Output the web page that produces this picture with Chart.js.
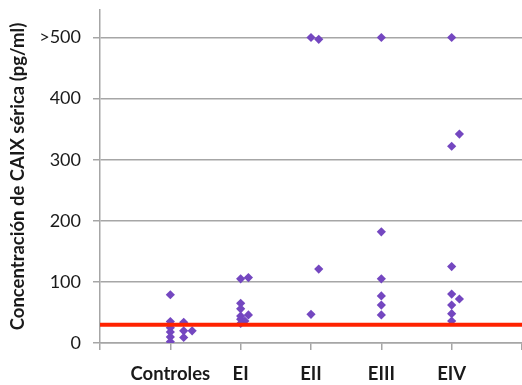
<!DOCTYPE html>
<html>
<head>
<meta charset="utf-8">
<script src="https://cdn.jsdelivr.net/npm/chart.js@4.4.0/dist/chart.umd.min.js"></script>
<style>
  html, body { margin: 0; padding: 0; background: #ffffff; }
  #wrap { width: 522px; height: 385px; position: relative; }
</style>
</head>
<body>
<div id="wrap"><canvas id="c" width="522" height="385"></canvas></div>
<script>
// ---- Data ----
const categories = ['Controles', 'EI', 'EII', 'EIII', 'EIV'];
const yTickLabels = { 500: '>500' };
const cutoffValue = 30;

const controlesX = [1, 1, 1, 1, 1, 1, 1, 1.19, 1.19, 1.19, 1.31];
const controlesY = [79, 35, 30, 25, 18, 10, 2, 34, 20, 9, 20];

const eiX = [2, 2.11, 2, 2, 2, 2.11, 2, 2.06, 2];
const eiY = [105, 107, 65, 56, 44, 46, 39, 36, 32];

const eiiX = [3, 3.11, 3.11, 3];
const eiiY = [500, 497, 121, 47];

const eiiiX = [4, 4, 4, 4, 4, 4];
const eiiiY = [500, 182, 105, 77, 62, 46];

const eivX = [5, 5.11, 5, 5, 5, 5.11, 5, 5, 5];
const eivY = [500, 342, 322, 125, 80, 72, 62, 48, 36];

// ---- Build chart data ----
function pts(xs, ys) { return xs.map((x, i) => ({ x: x, y: ys[i] })); }
const allPoints = [].concat(
  pts(controlesX, controlesY),
  pts(eiX, eiY),
  pts(eiiX, eiiY),
  pts(eiiiX, eiiiY),
  pts(eivX, eivY)
);

const gridColor = '#a6a6a6';
const textColor = '#1a1a1a';
const fontFamily = 'Lato, "Open Sans", "Liberation Sans", sans-serif';

new Chart(document.getElementById('c'), {
  type: 'scatter',
  data: {
    datasets: [
      {
        type: 'line',
        label: 'Corte',
        data: [{ x: 0, y: cutoffValue }, { x: 6, y: cutoffValue }],
        borderColor: '#ff2200',
        borderWidth: 4,
        pointRadius: 0,
        fill: false,
        order: 0
      },
      {
        label: 'CAIX',
        data: allPoints,
        pointStyle: 'rectRot',
        pointRadius: 4.6,
        backgroundColor: '#7447c0',
        borderColor: '#7447c0',
        borderWidth: 0,
        order: 1
      }
    ]
  },
  options: {
    responsive: false,
    animation: false,
    layout: { autoPadding: false, padding: { top: 10, right: 0, left: 0, bottom: 0 } },
    plugins: { legend: { display: false }, tooltip: { enabled: false } },
    scales: {
      x: {
        type: 'linear',
        min: 0,
        max: 6,
        afterFit: (s) => { s.height = 42; s.paddingLeft = 0; s.paddingRight = 0; },
        ticks: {
          stepSize: 1,
          autoSkip: false,
          maxRotation: 0,
          padding: 13,
          color: textColor,
          font: { family: fontFamily, size: 18.5, weight: 'bold' },
          callback: (v) => categories[v - 1] || ''
        },
        grid: {
          drawOnChartArea: false,
          drawTicks: true,
          tickLength: 7,
          color: gridColor,
          lineWidth: 1.5
        },
        border: { display: true, color: gridColor, width: 1.5 }
      },
      y: {
        min: 0,
        max: 545,
        afterFit: (s) => { s.width = 100; s.paddingTop = 0; s.paddingBottom = 0; },
        ticks: {
          stepSize: 100,
          includeBounds: false,
          padding: 12,
          color: textColor,
          font: { family: fontFamily, size: 18 },
          callback: (v) => (yTickLabels[v] !== undefined ? yTickLabels[v] : String(v))
        },
        grid: {
          color: gridColor,
          lineWidth: 1.5,
          tickLength: 7
        },
        border: { display: true, color: gridColor, width: 1.5 },
        title: {
          display: true,
          text: 'Concentración de CAIX sérica (pg/ml)',
          color: textColor,
          font: { family: fontFamily, size: 18.5, weight: 'bold' },
          padding: { top: 7, bottom: 0 }
        }
      }
    }
  }
});
</script>
</body>
</html>
